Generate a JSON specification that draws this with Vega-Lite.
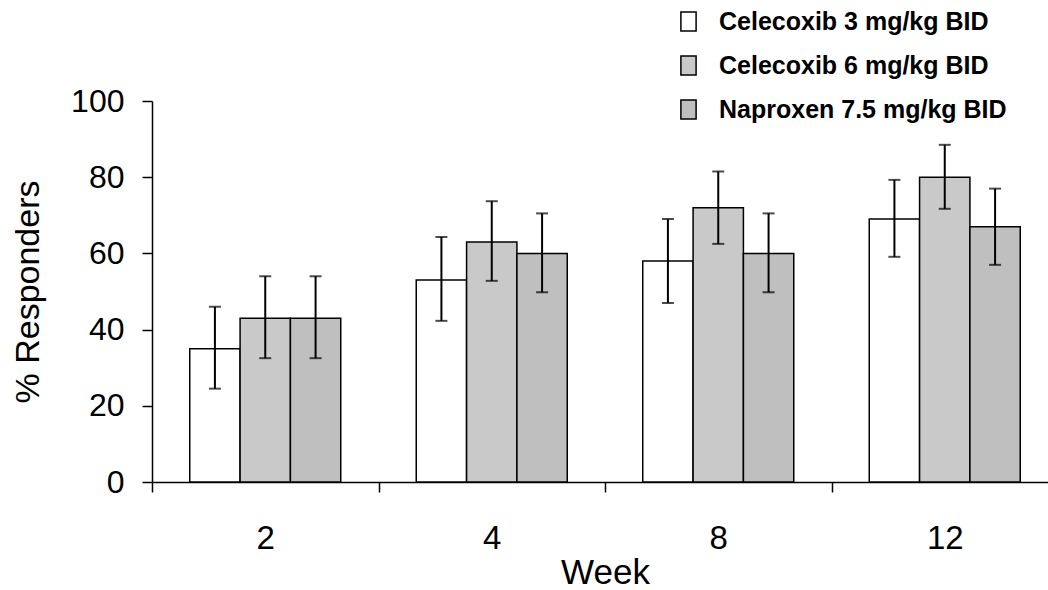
{
  "$schema": "https://vega.github.io/schema/vega-lite/v6.json",
  "autosize": "none",
  "width": 896,
  "height": 381,
  "padding": {"left": 152, "top": 101, "right": 0, "bottom": 108},
  "background": "white",
  "config": {
    "view": {"stroke": null},
    "font": "Liberation Sans",
    "axis": {
      "domainColor": "black",
      "domainWidth": 1.5,
      "tickColor": "black",
      "tickWidth": 1.5,
      "tickSize": 10,
      "labelColor": "black",
      "titleColor": "black",
      "labelFont": "Liberation Sans",
      "titleFont": "Liberation Sans",
      "labelFontSize": 32,
      "titleFontSize": 34,
      "titleFontWeight": "normal",
      "grid": false
    }
  },
  "data": {
    "values": [
      {"week": "2", "treatment": "Celecoxib 3 mg/kg BID", "pct": 35, "lo": 24.5, "hi": 46},
      {"week": "2", "treatment": "Celecoxib 6 mg/kg BID", "pct": 43, "lo": 32.5, "hi": 54},
      {"week": "2", "treatment": "Naproxen 7.5 mg/kg BID", "pct": 43, "lo": 32.5, "hi": 54},
      {"week": "4", "treatment": "Celecoxib 3 mg/kg BID", "pct": 53, "lo": 42.3, "hi": 64.3},
      {"week": "4", "treatment": "Celecoxib 6 mg/kg BID", "pct": 63, "lo": 52.8, "hi": 73.7},
      {"week": "4", "treatment": "Naproxen 7.5 mg/kg BID", "pct": 60, "lo": 49.8, "hi": 70.5},
      {"week": "8", "treatment": "Celecoxib 3 mg/kg BID", "pct": 58, "lo": 47, "hi": 69},
      {"week": "8", "treatment": "Celecoxib 6 mg/kg BID", "pct": 72, "lo": 62.5, "hi": 81.5},
      {"week": "8", "treatment": "Naproxen 7.5 mg/kg BID", "pct": 60, "lo": 49.8, "hi": 70.5},
      {"week": "12", "treatment": "Celecoxib 3 mg/kg BID", "pct": 69, "lo": 59.1, "hi": 79.3},
      {"week": "12", "treatment": "Celecoxib 6 mg/kg BID", "pct": 80, "lo": 71.7, "hi": 88.5},
      {"week": "12", "treatment": "Naproxen 7.5 mg/kg BID", "pct": 67, "lo": 57, "hi": 77}
    ]
  },
  "encoding": {
    "x": {
      "field": "week",
      "type": "nominal",
      "sort": ["2", "4", "8", "12"],
      "scale": {"range": [0, 906], "paddingInner": 0, "paddingOuter": 0},
      "axis": {
        "title": "Week",
        "titleFontSize": 35,
        "labelFontSize": 33,
        "labelAngle": 0,
        "tickBand": "extent",
        "labelPadding": 30,
        "titlePadding": 0
      }
    },
    "xOffset": {
      "field": "treatment",
      "type": "nominal",
      "sort": ["Celecoxib 3 mg/kg BID", "Celecoxib 6 mg/kg BID", "Naproxen 7.5 mg/kg BID"],
      "scale": {"paddingInner": 0, "paddingOuter": 0.75}
    }
  },
  "layer": [
    {
      "mark": {"type": "bar", "stroke": "black", "strokeWidth": 1.5},
      "encoding": {
        "y": {
          "field": "pct",
          "type": "quantitative",
          "scale": {"domain": [0, 100]},
          "axis": {
            "title": "% Responders",
            "values": [0, 20, 40, 60, 80, 100],
            "labelPadding": 18,
            "titlePadding": 25
          }
        },
        "fill": {
          "field": "treatment",
          "type": "nominal",
          "sort": ["Celecoxib 3 mg/kg BID", "Celecoxib 6 mg/kg BID", "Naproxen 7.5 mg/kg BID"],
          "scale": {"range": ["#ffffff", "#c9c9c9", "#bfbfbf"]},
          "legend": {
            "title": null,
            "orient": "none",
            "legendX": 524,
            "legendY": -92,
            "padding": 0,
            "symbolType": "M-0.8,-1H0.8V1H-0.8Z",
            "symbolSize": 361,
            "symbolStrokeColor": "black",
            "symbolStrokeWidth": 1.5,
            "labelFont": "Liberation Sans",
            "labelFontSize": 25,
            "labelFontWeight": "bold",
            "labelColor": "black",
            "labelOffset": 18,
            "rowPadding": 18,
            "labelLimit": 400,
            "encode": {
              "symbols": {
                "update": {
                  "fill": {"signal": "datum.value === 'Naproxen 7.5 mg/kg BID' ? '#9e9e9e' : scale('fill', datum.value)"},
                  "stroke": {"value": "black"},
                  "strokeWidth": {"value": 1.5}
                }
              }
            }
          }
        }
      }
    },
    {
      "mark": {"type": "rule", "color": "black", "strokeWidth": 2},
      "encoding": {
        "y": {"field": "lo", "type": "quantitative"},
        "y2": {"field": "hi"}
      }
    },
    {
      "mark": {"type": "tick", "color": "black", "thickness": 2, "size": 12, "orient": "horizontal"},
      "encoding": {"y": {"field": "lo", "type": "quantitative"}}
    },
    {
      "mark": {"type": "tick", "color": "black", "thickness": 2, "size": 12, "orient": "horizontal"},
      "encoding": {"y": {"field": "hi", "type": "quantitative"}}
    }
  ]
}
